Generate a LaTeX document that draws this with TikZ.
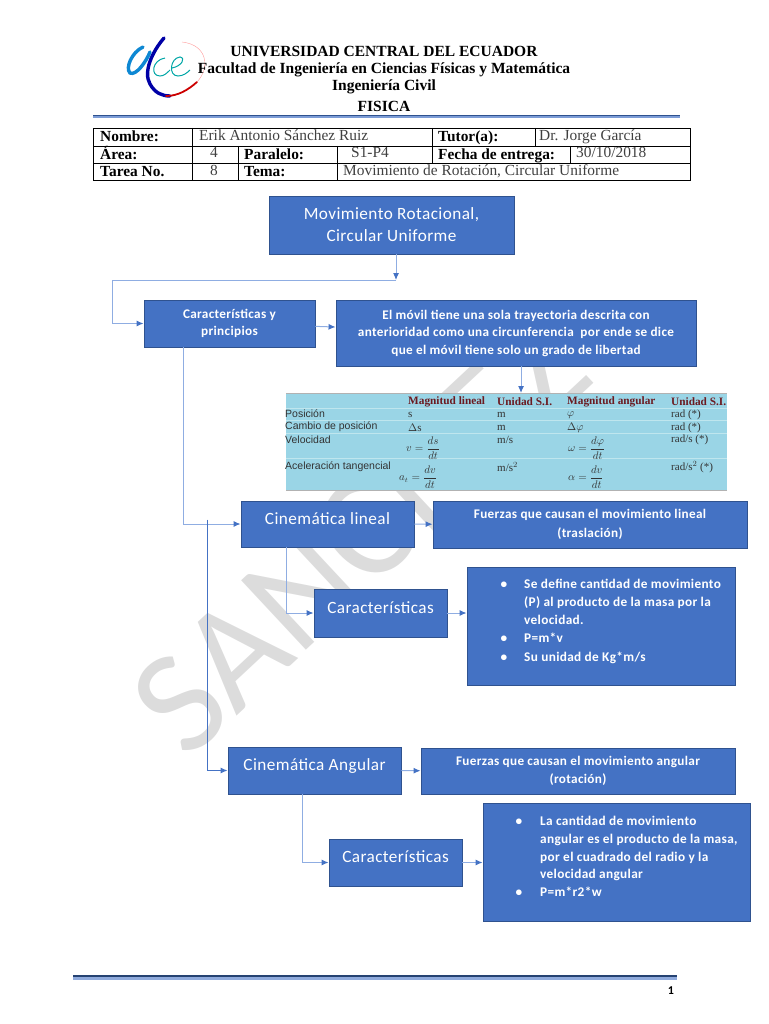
\documentclass[tikz,border=0pt]{standalone}
\usepackage{fontspec}
\setmainfont{Liberation Serif}
\newfontfamily\boxfont[LetterSpace=2.5]{Carlito}
\newfontfamily\markfont{Carlito}
\newfontfamily\cellfont{Liberation Sans}
\usetikzlibrary{arrows.meta}
\definecolor{boxblue}{HTML}{4472C4}
\definecolor{boxedge}{HTML}{2F528F}
\definecolor{linkblue}{HTML}{8FADE2}
\definecolor{tabblue}{HTML}{9AD5E6}
\definecolor{tabline}{HTML}{BFE6EE}
\definecolor{markgray}{HTML}{DCDCDC}
\definecolor{headred}{HTML}{6B1A20}
\tikzset{
  flowbox/.style={draw=boxedge,fill=boxblue,line width=0.9pt,text=white,align=center,inner sep=0pt},
  bigtext/.style={font=\boxfont\fontsize{17.2}{22}\selectfont},
  smalltext/.style={font=\boxfont\bfseries\fontsize{13.2}{17.5}\selectfont},
  listtext/.style={text=white,anchor=north west,align=left,inner sep=0pt,font=\boxfont\bfseries\fontsize{13.3}{17.8}\selectfont},
  flowline/.style={draw=linkblue,line width=1pt,-{Latex[length=7pt,width=6pt,color=boxblue]}},
  headtext/.style={font=\bfseries\fontsize{15.5}{17}\selectfont,inner sep=0pt},
  formlabel/.style={font=\bfseries\fontsize{15.4}{17}\selectfont,anchor=base west,inner sep=0pt},
  formvalue/.style={font=\fontsize{15.4}{17}\selectfont,anchor=base west,inner sep=0pt,text=black!75},
  tabhead/.style={font=\bfseries\fontsize{11.3}{12}\selectfont,text=headred,anchor=west,inner sep=0pt},
  tabrow/.style={font=\cellfont\fontsize{10.5}{11}\selectfont,text=black!80,anchor=west,inner sep=0pt},
  tabval/.style={font=\fontsize{11}{12}\selectfont,text=black!80,anchor=west,inner sep=0pt},
  tabform/.style={font=\fontsize{10.5}{12}\selectfont,text=black!80,anchor=west,inner sep=0pt},
}
\begin{document}
\begin{tikzpicture}[x=1pt,y=-1pt]
  \useasboundingbox (0,0) rectangle (768,1024);
  % watermark
  \node[font=\markfont\fontsize{148}{148}\selectfont,text=markgray,rotate=43,anchor=base west,inner sep=0pt] (mark) at (187,762) {SANCHEZ};

  % logo
  \draw[line width=3.4pt,blue!65!black,line cap=round] (164,38) .. controls (152,52) and (143,72) .. (150,84) .. controls (155,93) and (162,96) .. (170,96);
  \draw[line width=3.4pt,cyan!70!blue,line cap=round] (143,47) .. controls (132,52) and (125,68) .. (130,73) .. controls (136,76) and (146,62) .. (150,52);
  \draw[line width=1.8pt,red!80!black,line cap=round] (166,96) .. controls (178,96) and (188,90) .. (197,82);
  \draw[line width=0.4pt,red!40] (197,82) .. controls (210,68) and (208,45) .. (182,42);
  \draw[line width=1pt,teal!70!cyan] (165,58) .. controls (152,60) and (150,76) .. (160,76) .. controls (164,76) and (167,73) .. (170,70);
  \draw[line width=1pt,teal!70!cyan] (172,68) .. controls (182,66) and (186,58) .. (180,57) .. controls (170,58) and (168,76) .. (178,76) .. controls (183,76) and (187,73) .. (190,70);

  % header lines
  \node[headtext] (uni) at (384,51) {UNIVERSIDAD CENTRAL DEL ECUADOR};
  \node[headtext] (fac) at (384,69.5) {Facultad de Ingeniería en Ciencias Físicas y Matemática};
  \node[headtext] (ing) at (384,87) {Ingeniería Civil};
  \node[headtext] (fis) at (384,106) {FISICA};
  \draw[boxblue!70,line width=2pt] (93,117.5) -- (680,117.5);
  \draw[boxedge,line width=1.6pt] (93,115.5) -- (680,115.5);

  % form grid
  \draw[line width=0.8pt] (93,128) rectangle (690,180);
  \draw[line width=0.8pt] (93,146) -- (690,146);
  \draw[line width=0.8pt] (93,163) -- (690,163);
  \draw[line width=0.8pt] (192,128) -- (192,180);
  \draw[line width=0.8pt] (238,146) -- (238,180);
  \draw[line width=0.8pt] (337,146) -- (337,180);
  \draw[line width=0.8pt] (432,128) -- (432,163);
  \draw[line width=0.8pt] (535,128) -- (535,146);
  \draw[line width=0.8pt] (570,146) -- (570,163);
  \node[formlabel] (nom) at (100,142) {Nombre:};
  \node[formlabel] (are) at (100,159.5) {Área:};
  \node[formlabel] (tar) at (100,176.5) {Tarea No.};
  \node[formvalue] (erik) at (199,141) {Erik Antonio Sánchez Ruiz};
  \node[formlabel] (tut) at (438,142) {Tutor(a):};
  \node[formvalue] (dr) at (539,141) {Dr. Jorge García};
  \node[formvalue] (cuatro) at (210,158) {4};
  \node[formlabel] (par) at (244,159.5) {Paralelo:};
  \node[formvalue] (sp) at (351,158) {S1-P4};
  \node[formlabel] (fec) at (438,159.5) {Fecha de entrega:};
  \node[formvalue] (dat) at (576,158) {30/10/2018};
  \node[formvalue] (ocho) at (210,176) {8};
  \node[formlabel] (tem) at (244,176.5) {Tema:};
  \node[formvalue] (mov) at (343,176) {Movimiento de Rotación, Circular Uniforme};

  % flow boxes
  \node[flowbox,bigtext,minimum width=245pt,minimum height=58pt] (titulo) at (391.5,225) {Movimiento Rotacional,\\Circular Uniforme};
  \node[flowbox,smalltext,minimum width=171pt,minimum height=47pt] (carac) at (229.5,323.5) {Características y\\principios};
  \node[flowbox,smalltext,minimum width=360pt,minimum height=66pt] (movil) at (516,333) {El móvil tiene una sola trayectoria descrita con\\anterioridad como una circunferencia\ \ por ende se dice\\que el móvil tiene solo un grado de libertad};

  % table
  \node[fill=tabblue,draw=none,minimum width=441pt,minimum height=98pt,inner sep=0pt] (tabla) at (506.5,442) {};
  \draw[gray!60,line width=0.8pt] (286,393.5) -- (727,393.5);
  \draw[gray!60,line width=0.8pt] (286,490.5) -- (727,490.5);
  \foreach \y in {408,420.5,433,458}{
    \draw[tabline,line width=0.8pt] (286,\y) -- (727,\y);
  }
  \foreach \x/\t in {408/Magnitud lineal,497/Unidad S.I.,567/Magnitud angular,671/Unidad S.I.}{
    \node[tabhead] (h-\x) at (\x,402) {\t};
  }
  \foreach \y/\t in {414/Posición,427/Cambio de posición,440/Velocidad,467/Aceleración tangencial}{
    \node[tabrow] (r-\y) at (285,\y) {\t};
  }
  \node[tabval] (v1) at (408,415) {s};
  \node[tabval] (v2) at (497,415) {m};
  \node[tabval] (v3) at (567,415) {$\varphi$};
  \node[tabval] (v4) at (671,415) {rad (*)};
  \node[tabval] (v5) at (408,427.5) {$\Delta$s};
  \node[tabval] (v6) at (497,427.5) {m};
  \node[tabval] (v7) at (567,427.5) {$\Delta\varphi$};
  \node[tabval] (v8) at (671,427.5) {rad (*)};
  \node[tabform] (f1) at (406,448) {$v=\displaystyle\frac{ds}{dt}$};
  \node[tabval] (v9) at (497,440) {m/s};
  \node[tabform] (f2) at (568,448) {$\omega=\displaystyle\frac{d\varphi}{dt}$};
  \node[tabval] (v10) at (671,440) {rad/s (*)};
  \node[tabform] (f3) at (399,477) {$a_t=\displaystyle\frac{dv}{dt}$};
  \node[tabval] (v11) at (497,467) {m/s$^2$};
  \node[tabform] (f4) at (568,477) {$\alpha=\displaystyle\frac{dv}{dt}$};
  \node[tabval] (v12) at (671,467) {rad/s$^2$ (*)};

  \node[flowbox,bigtext,minimum width=173pt,minimum height=46pt] (cinlin) at (327.5,524) {\raisebox{0pt}[0pt][0pt]{Cinemática lineal}};
  \node[flowbox,smalltext,minimum width=314pt,minimum height=47pt] (fuerlin) at (590,524.5) {Fuerzas que causan el movimiento lineal\\[1.5pt](traslación)};
  \node[flowbox,bigtext,minimum width=133pt,minimum height=48pt] (carlin) at (380.5,613) {\raisebox{0pt}[0pt][0pt]{Características}};
  \node[flowbox,minimum width=268pt,minimum height=118pt] (deflin) at (601,626) {};
  \node[flowbox,bigtext,minimum width=173pt,minimum height=47pt] (cinang) at (314.5,770.5) {\raisebox{0pt}[0pt][0pt]{Cinemática Angular}};
  \node[flowbox,smalltext,minimum width=314pt,minimum height=46pt] (fuerang) at (578,771) {Fuerzas que causan el movimiento angular\\[1pt](rotación)};
  \node[flowbox,bigtext,minimum width=133pt,minimum height=47pt] (carang) at (395.5,862.5) {\raisebox{0pt}[0pt][0pt]{Características}};
  \node[flowbox,minimum width=267pt,minimum height=118pt] (defang) at (616.5,862) {};

  % lists
  \foreach \y in {585,639,658}{
    \node[listtext,anchor=center] (bl-\y) at (504,\y) {•};
  }
  \node[listtext] (l1) at (524,579) {Se define cantidad de movimiento\\(P) al producto de la masa por la\\velocidad.};
  \node[listtext] (l2) at (524,633) {P=m*v};
  \node[listtext] (l3) at (524,652) {Su unidad de Kg*m/s};
  \foreach \y in {822,893}{
    \node[listtext,anchor=center] (ba-\y) at (519,\y) {•};
  }
  \node[listtext] (a1) at (540,816) {La cantidad de movimiento\\angular es el producto de la masa,\\por el cuadrado del radio y la\\velocidad angular};
  \node[listtext] (a2) at (540,887) {P=m*r2*w};

  % footer
  \draw[boxblue!60,line width=3.4pt] (73,978) -- (677,978);
  \draw[boxedge!80!black,line width=1.5pt] (73,976) -- (677,976);
  \node[font=\boxfont\bfseries\fontsize{12}{13}\selectfont,inner sep=0pt] (pagina) at (671,991) {1};

  % connectors
  \coordinate (cruce) at (396,280);
  \coordinate (esquina) at (112,280);
  \coordinate (bajada) at (183,347);
  \coordinate (union) at (207,519.5);
  \coordinate (lindown) at (286,547);
  \coordinate (angdown) at (302,794);
  \draw[flowline] (396,254) -- (cruce);
  \draw[flowline] (cruce) -- (esquina) |- (carac.west);
  \draw[flowline] (carac) -- (movil);
  \draw[flowline] (521,366) -- (521,393);
  \draw[flowline] (bajada) |- (cinlin.west);
  \draw[flowline,draw=boxblue] (union) |- (cinang.west);
  \draw[flowline] (cinlin) -- (fuerlin);
  \draw[flowline] (lindown) |- (carlin.west);
  \draw[flowline] (carlin) -- (deflin.west |- carlin);
  \draw[flowline] (cinang) -- (fuerang);
  \draw[flowline] (angdown) |- (carang.west);
  \draw[flowline] (carang) -- (defang.west |- carang);
\end{tikzpicture}
\end{document}
